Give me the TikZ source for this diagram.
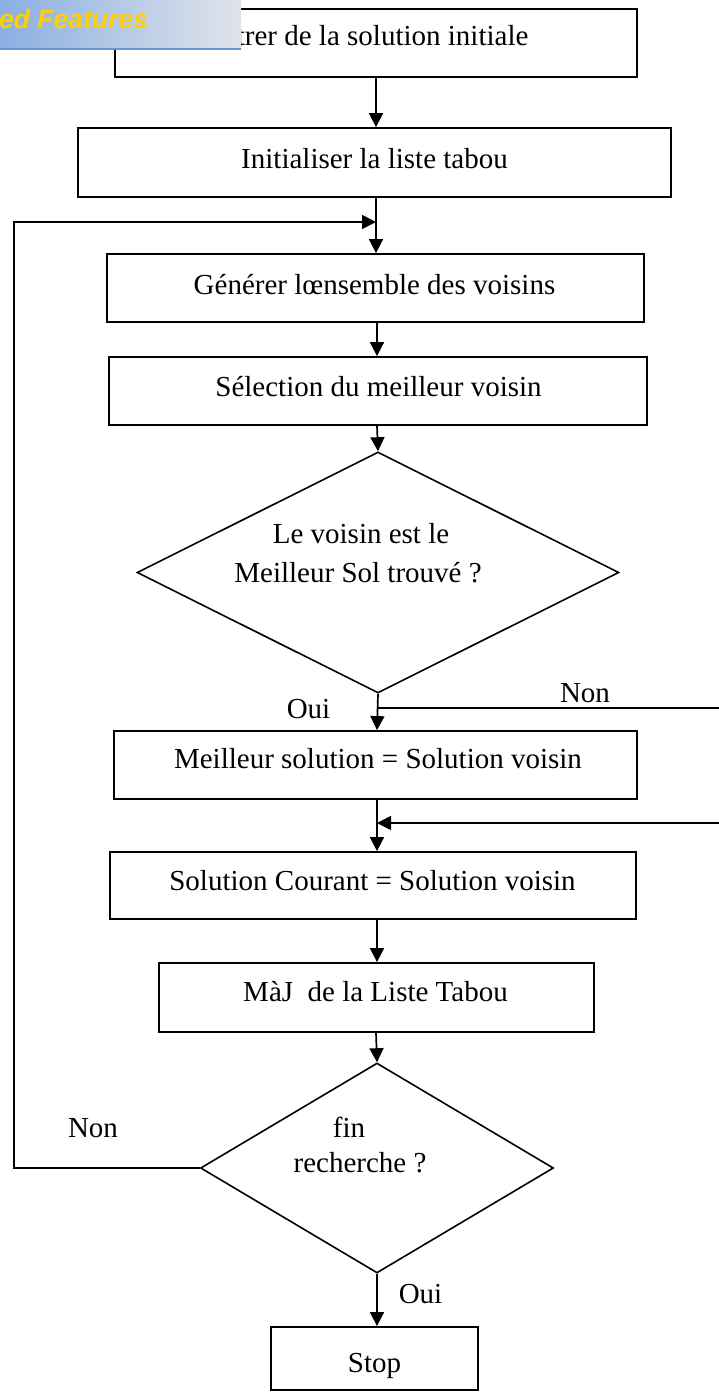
\documentclass[tikz,border=0pt]{standalone}
\usepackage{fontspec}
\setmainfont{Liberation Serif}
\newfontfamily\bannerfont{Liberation Sans}
\usetikzlibrary{shapes.geometric,arrows.meta}

\definecolor{bannerL}{RGB}{139,175,225}
\definecolor{bannerR}{RGB}{224,228,234}
\definecolor{bannerEdge}{RGB}{100,150,215}
\definecolor{bannerText}{RGB}{255,208,0}

\begin{document}
\begin{tikzpicture}[x=1pt,y=-1pt,
  stepbox/.style={draw,line width=1.8pt,inner sep=0pt,rectangle},
  decision/.style={draw,line width=1.6pt,inner sep=0pt,diamond},
  txt/.style={anchor=base,inner sep=0pt,font=\fontsize{29}{34}\selectfont},
  conn/.style={line width=1.7pt},
  arr/.style={line width=1.7pt,-{Triangle[length=14pt,width=14pt]}}]

\useasboundingbox (0,0) rectangle (719,1392);
\fill[white] (0,0) rectangle (719,1392);

% spine of the main flow
\coordinate (spine) at (376,0);
\coordinate (spineB) at (377,0);

% boxes
\node[stepbox,minimum width=522pt,minimum height=68pt] (b1) at (376,43) {};
\node[stepbox,minimum width=593pt,minimum height=69pt] (b2) at (374.5,162.5) {};
\node[stepbox,minimum width=537pt,minimum height=68pt] (b3) at (375.5,288) {};
\node[stepbox,minimum width=538pt,minimum height=68pt] (b4) at (378,391) {};
\node[decision,minimum width=482pt,minimum height=241pt] (d1) at (378,572.5) {};
\node[stepbox,minimum width=523pt,minimum height=68pt] (b5) at (375.5,765) {};
\node[stepbox,minimum width=526pt,minimum height=67pt] (b6) at (373,885.5) {};
\node[stepbox,minimum width=435pt,minimum height=69pt] (b7) at (376.5,997.5) {};
\node[decision,minimum width=353pt,minimum height=210pt] (d2) at (377,1168) {};
\node[stepbox,minimum width=207pt,minimum height=63pt] (b8) at (374.5,1358.5) {};

% texts
\node[txt] (t1) at (366.5,45) {Entrer de la solution initiale};
\node[txt] (t2) at (374.5,168) {Initialiser la liste tabou};
\node[txt] (t3) at (374.5,294) {Générer lœnsemble des voisins};
\node[txt] (t4) at (378.5,396) {Sélection du meilleur voisin};
\node[txt] (t5a) at (361,543) {Le voisin est le};
\node[txt] (t5b) at (358,582) {Meilleur Sol trouvé ?};
\node[txt] (t6) at (378,768) {Meilleur solution = Solution voisin};
\node[txt] (t7) at (372.5,890) {Solution Courant = Solution voisin};
\node[txt] (t8) at (375.5,1001) {MàJ\ \ de la Liste Tabou};
\node[txt] (t9a) at (349,1137) {fin};
\node[txt] (t9b) at (360,1172) {recherche ?};
\node[txt] (t10) at (374.5,1372) {Stop};

% branch labels
\node[txt] (oui1) at (308.5,718) {Oui};
\node[txt] (non1) at (585,702) {Non};
\node[txt] (non2) at (93,1137) {Non};
\node[txt] (oui2) at (420.5,1303) {Oui};

% free ends of the side connectors
\coordinate (loopTop) at (14,222);
\coordinate (loopJoin) at (376,222);
\coordinate (nonJoin) at (377,708);
\coordinate (nonOut) at (719,708);
\coordinate (retIn) at (719,823);
\coordinate (retJoin) at (377,823);

% main flow
\draw[arr] (b1.south -| spine) -- (b2.north -| spine);
\draw[arr] (b2.south -| spine) -- (b3.north -| spine);
\draw[arr] (b3.south -| spineB) -- (b4.north -| spineB);
\draw[arr] (b4.south -| spineB) -- (d1.north);
\draw[arr] (d1.south) -- (b5.north -| spineB);
\draw[arr] (b5.south -| spineB) -- (b6.north -| spineB);
\draw[arr] (b6.south -| spineB) -- (b7.north -| spineB);
\draw[arr] (b7.south -| spine) -- (d2.north);
\draw[arr] (d2.south) -- (b8.north -| d2.south);

% side branches
\draw[conn] (nonJoin) -- (nonOut);
\draw[arr] (retIn) -- (retJoin);
\draw[arr] (d2.west) -| (loopTop) -- (loopJoin);

% header banner over the first box
\shade[left color=bannerL,right color=bannerR] (0,0) rectangle (241,49);
\draw[bannerEdge,line width=2pt] (0,49) -- (241,49);
\node[anchor=base west,inner sep=0pt,text=bannerText,
      font=\bannerfont\bfseries\itshape\fontsize{26.5}{31}\selectfont] (banner) at (-1,28) {ed Features};

\end{tikzpicture}
\end{document}
